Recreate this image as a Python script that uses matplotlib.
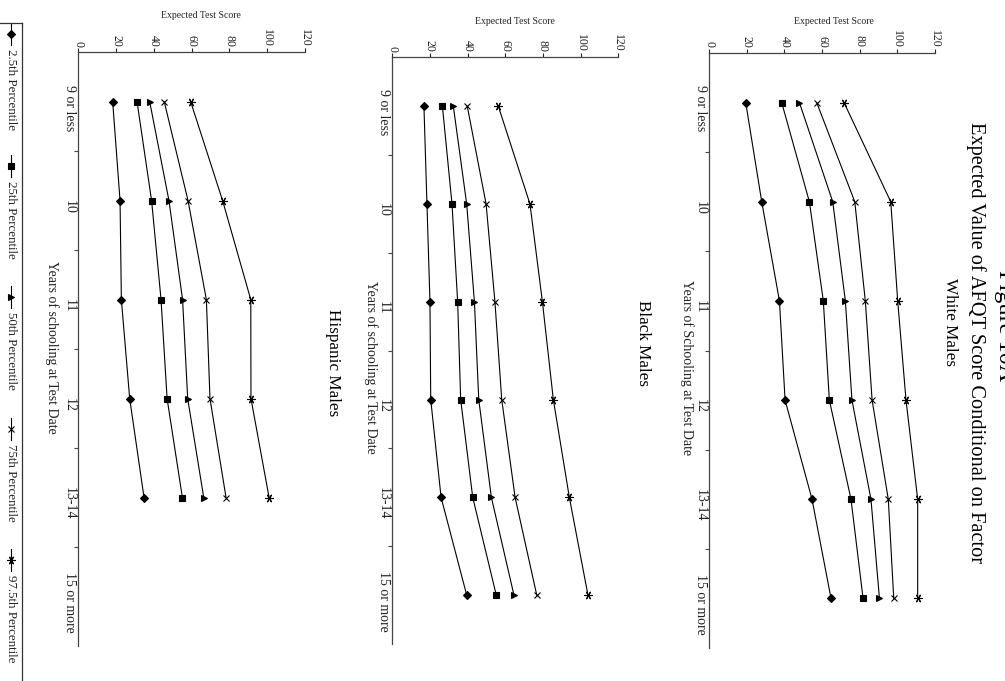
import matplotlib
matplotlib.use('Agg')
import matplotlib.pyplot as plt
import matplotlib.transforms as mtransforms

plt.rcParams['font.family'] = ['Liberation Serif', 'DejaVu Serif']

# data
years = ['9 or less', '10', '11', '12', '13-14', '15 or more']
score_ticks = [0, 20, 40, 60, 80, 100, 120]
percentiles = ['2.5th Percentile', '25th Percentile', '50th Percentile',
               '75th Percentile', '97.5th Percentile']

white_p2_5 = [19.5, 28.0, 37.4, 40.4, 54.7, 64.8]
white_p25 = [38.6, 53.3, 60.7, 63.9, 75.4, 81.8]
white_p50 = [48.0, 65.7, 72.4, 75.9, 86.0, 90.5]
white_p75 = [57.2, 77.4, 83.0, 86.6, 95.2, 98.1]
white_p97_5 = [71.7, 96.5, 100.2, 104.6, 110.8, 110.8]

black_p2_5 = [16.8, 18.4, 20.0, 20.4, 25.9, 39.5]
black_p25 = [26.6, 31.7, 34.7, 36.3, 42.7, 55.2]
black_p50 = [32.4, 39.5, 43.6, 45.9, 52.6, 64.6]
black_p75 = [39.8, 49.8, 54.5, 58.1, 65.2, 76.7]
black_p97_5 = [56.3, 73.1, 79.7, 85.5, 94.0, 103.9]

hisp_p2_5 = [18.2, 22.1, 22.8, 27.2, 34.8]
hisp_p25 = [31.1, 38.8, 43.8, 47.0, 55.1]
hisp_p50 = [37.8, 48.0, 55.2, 57.9, 66.4]
hisp_p75 = [45.5, 58.1, 67.8, 69.7, 78.2]
hisp_p97_5 = [59.5, 76.4, 91.3, 91.4, 101.0]

markers = ['D', 's', '>', 'x', (6, 2, 90)]
sizes = [4, 5, 5, 5, 6]

W, H = 1005, 681
fig = plt.figure(figsize=(W / 100, H / 100), dpi=100)


def px_axes(x0, x1, y0, y1):
    # pixel box (top-left origin) -> figure fraction
    return fig.add_axes([x0 / W, 1 - y1 / H, (x1 - x0) / W, (y1 - y0) / H])


def ftext(x, y, s, **kw):
    fig.text(x / W, 1 - y / H, s, ha='center', va='center', **kw)


def panel(box, series, title, title_pos, xlabel, xlabel_pos, ylabel_pos):
    ax = px_axes(*box)
    for vals, m, s in zip(series, markers, sizes):
        ax.plot(vals, range(len(vals)), color='black', lw=0.8,
                marker=m, ms=s, mew=0.8, mfc='black', mec='black')
    ax.set_xlim(0, 120)
    ax.set_ylim(5.5, -0.5)

    ax.xaxis.tick_top()
    ax.set_xticks(score_ticks)
    ax.set_xticklabels([str(t) for t in score_ticks], rotation=-90)
    ax.tick_params(axis='x', direction='out', length=3, width=0.8, pad=1,
                   labelsize=8.5, colors='#222222')

    ax.set_yticks(range(len(years)))
    ax.set_yticklabels(years, rotation=-90)
    ax.set_yticks([k + 0.5 for k in range(len(years) - 1)], minor=True)
    ax.tick_params(axis='y', which='major', length=0, pad=1.5, labelsize=10,
                   colors='#222222')
    ax.tick_params(axis='y', which='minor', length=3, width=0.8,
                   direction='out', color='#444444')
    shift = mtransforms.ScaledTranslation(0, -6 / 100, fig.dpi_scale_trans)
    for lab in ax.get_yticklabels():
        lab.set_transform(lab.get_transform() + shift)
        lab.set_va('center')

    for side in ['right', 'bottom']:
        ax.spines[side].set_visible(False)
    for side in ['top', 'left']:
        ax.spines[side].set_linewidth(0.9)
        ax.spines[side].set_color('#444444')

    ftext(*title_pos, title, rotation=-90, fontsize=12.3)
    ftext(*xlabel_pos, xlabel, rotation=-90, fontsize=10, color='#222222')
    ftext(*ylabel_pos, 'Expected Test Score', fontsize=7, color='#222222')
    return ax


panel((709, 935, 53, 648),
      [white_p2_5, white_p25, white_p50, white_p75, white_p97_5],
      'White Males', (950, 322),
      'Years of Schooling at Test Date', (687, 368), (834, 22))

panel((392.3, 618.3, 57.3, 644),
      [black_p2_5, black_p25, black_p50, black_p75, black_p97_5],
      'Black Males', (643, 343),
      'Years of schooling at Test Date', (371, 367), (515, 22))

panel((78.3, 305, 52.3, 646),
      [hisp_p2_5, hisp_p25, hisp_p50, hisp_p75, hisp_p97_5],
      'Hispanic Males', (333, 363),
      'Years of schooling at Test Date', (52, 347), (201, 15))

# page titles (rotated page)
ftext(1004, 326, 'Figure 10A', rotation=-90, fontsize=17.5)
ftext(976, 343, 'Expected Value of AFQT Score Conditional on Factor',
      rotation=-90, fontsize=14.7)

# legend, drawn by hand because the whole page is turned
lax = px_axes(-1, 21.7, 23, 690)
lax.set_xlim(-1, 21.7)
lax.set_ylim(690, 23)
lax.set_xticks([])
lax.set_yticks([])
lax.patch.set_alpha(0)
for side in ['left', 'bottom']:
    lax.spines[side].set_visible(False)
for side in ['top', 'right']:
    lax.spines[side].set_linewidth(0.9)
    lax.spines[side].set_color('#333333')

for k, (label, m, s) in enumerate(zip(percentiles, markers, sizes)):
    yc = 34 + 131.5 * k
    lax.plot([11, 11], [yc - 11, yc + 11], color='black', lw=0.8)
    lax.plot([11], [yc], marker=m, ms=s, color='black', mew=0.8)
    lax.text(11, yc + 15, label, rotation=-90, ha='center', va='top',
             fontsize=9.4, color='#222222')

fig.savefig('out.png', dpi=100)
